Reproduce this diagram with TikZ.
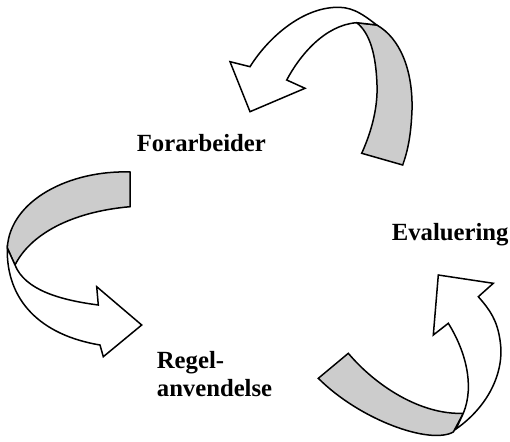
\documentclass[tikz,border=0pt]{standalone}
\usepackage{fontspec}
\setmainfont{Liberation Serif}
\begin{document}
\begin{tikzpicture}[x=1pt,y=-1pt,
  band/.style={draw=black,line width=1.5pt,line join=miter,fill=gray!40},
  whiteband/.style={draw=black,line width=1.5pt,line join=miter,fill=white},
  lbl/.style={inner sep=0pt,anchor=base west,font=\fontsize{24.7}{28.7}\selectfont\bfseries}]
\useasboundingbox (0,0) rectangle (510,441);
% ---- top arrow (from Evaluering to Forarbeider)
\draw[band] (376.7,25) .. controls (400,38) and (413,70) .. (412,110)
  .. controls (411,135) and (408,150) .. (402.7,165) -- (361.7,153.3)
  .. controls (370,135) and (378,110) .. (377,85)
  .. controls (376,55) and (370,33) .. (356.7,22.7) -- cycle;
\draw[whiteband] (376.7,25) .. controls (360,12) and (350,6) .. (333,7.5)
  .. controls (300,10) and (268,38) .. (250,66.7) -- (230,61.7) -- (250,111.7)
  -- (305,88.3) -- (286.7,80) .. controls (300,55) and (325,25) .. (356.7,22.7) -- cycle;
% ---- left arrow (from Forarbeider to Regelanvendelse)
\draw[band] (130,172) .. controls (70,170) and (10,200) .. (7.3,248) -- (15,265)
  .. controls (30,235) and (70,212) .. (130,206.7) -- cycle;
\draw[whiteband] (7.3,248) .. controls (6,300) and (40,335) .. (100,345)
  -- (103.3,356.7) -- (141.7,325) -- (96.7,286.7) -- (98.3,305)
  .. controls (60,300) and (25,290) .. (15,265) -- cycle;
% ---- right arrow (from Regelanvendelse to Evaluering)
\draw[band] (348.3,353.3) .. controls (375,385) and (420,415) .. (463.3,413.3)
  -- (453.3,432) .. controls (430,445) and (360,420) .. (318.3,378.3) -- cycle;
\draw[whiteband] (456,429) .. controls (490,405) and (505,370) .. (500,340)
  .. controls (497,320) and (490,310) .. (478.3,296.7) -- (493.3,283.3)
  -- (438.3,275) -- (433.3,335) -- (448.3,323.3)
  .. controls (465,350) and (475,385) .. (463.3,413.3) -- cycle;
% ---- labels
\node[lbl] (forarb) at (136.7,151.7) {Forarbeider};
\node[lbl] (eval) at (391.7,240) {Evaluering};
\node[lbl] (regel) at (156.7,368) {Regel-};
\node[lbl] (anv) at (156.7,396.7) {anvendelse};
\end{tikzpicture}
\end{document}
